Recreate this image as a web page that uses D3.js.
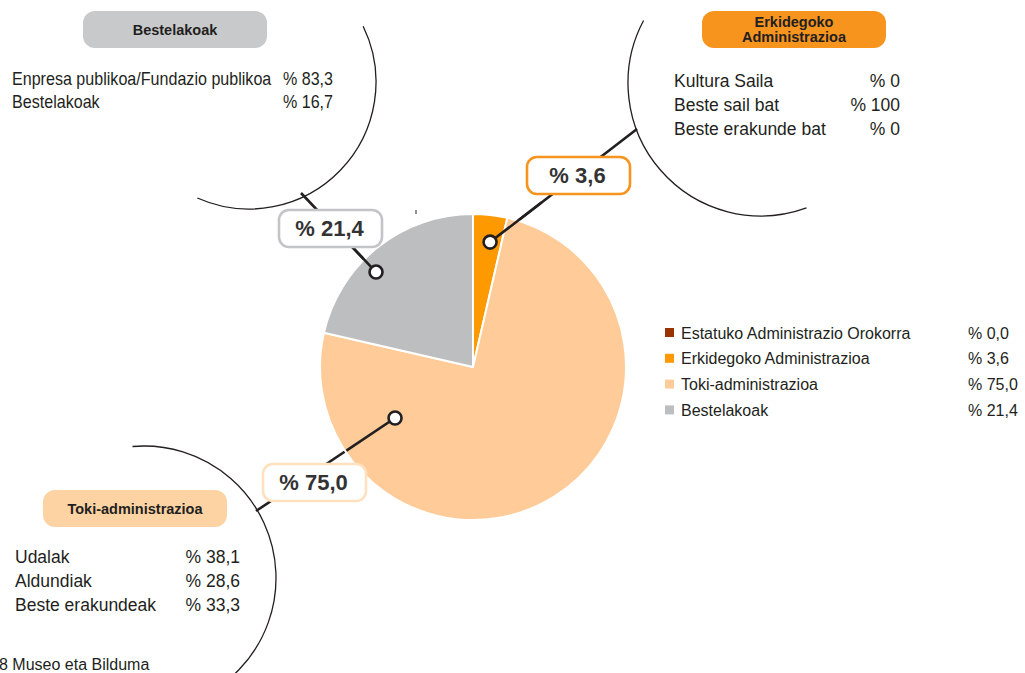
<!DOCTYPE html>
<html>
<head>
<meta charset="utf-8">
<script src="https://cdn.jsdelivr.net/npm/d3@7"></script>
<style>
  body { margin: 0; background: #fff; }
  svg { display: block; font-family: "Liberation Sans", Arial, sans-serif; }
</style>
</head>
<body>
<svg id="chart"></svg>
<script>
const width = 1025;
const height = 673;

// main pie
const categories = ["Estatuko Administrazio Orokorra", "Erkidegoko Administrazioa", "Toki-administrazioa", "Bestelakoak"];
const values = [0.0, 3.6, 75.0, 21.4];
const valueLabels = ["% 0,0", "% 3,6", "% 75,0", "% 21,4"];
const colors = ["#993300", "#FF9900", "#FFCC99", "#BCBEC0"];

// breakdowns shown in the callout circles
const bestelakoakNames = ["Enpresa publikoa/Fundazio publikoa", "Bestelakoak"];
const bestelakoakValues = ["% 83,3", "% 16,7"];
const erkidegokoNames = ["Kultura Saila", "Beste sail bat", "Beste erakunde bat"];
const erkidegokoValues = ["% 0", "% 100", "% 0"];
const tokiNames = ["Udalak", "Aldundiak", "Beste erakundeak"];
const tokiValues = ["% 38,1", "% 28,6", "% 33,3"];

const cx = 473, cy = 367, radius = 153;
const ink = "#231f20";

const svg = d3.select("#chart").attr("width", width).attr("height", height);

const pie = d3.pie().sort(null).value((d) => d);
const arcs = pie(values);
const arc = d3.arc().innerRadius(0).outerRadius(radius);

// big outline circles (partial arcs), angles in degrees from 12 o'clock clockwise
const bubbles = [
  { x: 249, y: 82, r: 127, from: 64, to: 204 },
  { x: 761, y: 83, r: 133, from: 160, to: 298 },
  { x: 144, y: 578, r: 132, from: -5, to: 180 }
];
const rad = (a) => (a * Math.PI) / 180;
bubbles.forEach((b) => {
  const p = d3.path();
  p.arc(b.x, b.y, b.r, rad(b.from - 90), rad(b.to - 90));
  svg.append("path").attr("d", p.toString()).attr("fill", "none")
    .attr("stroke", ink).attr("stroke-width", 1.3);
});

// callout layout: where on each slice the dot sits, and where the box goes
const callouts = [
  { i: 1, t: 0.6, k: 0.824, end: [637, 129], box: [527, 157], stroke: "#F7941E" },
  { i: 3, t: 0.408, k: 0.887, end: [301, 193], box: [279, 210], stroke: "#C3C4C6" },
  { i: 2, t: 0.829, k: 0.609, end: [256, 511], box: [263, 464], stroke: "#FFE1BF" }
];
const dotPos = (c) => {
  const a = arcs[c.i];
  const ang = a.startAngle + c.t * (a.endAngle - a.startAngle);
  return [cx + c.k * radius * Math.sin(ang), cy - c.k * radius * Math.cos(ang)];
};

// leader lines (behind pie and boxes)
callouts.forEach((c) => {
  const d = dotPos(c);
  svg.append("line").attr("x1", d[0]).attr("y1", d[1]).attr("x2", c.end[0]).attr("y2", c.end[1])
    .attr("stroke", ink).attr("stroke-width", 2.6);
});

// pie
const g = svg.append("g").attr("transform", `translate(${cx},${cy})`);
g.selectAll("path.slice").data(arcs).join("path")
  .attr("class", "slice")
  .attr("d", arc)
  .attr("fill", (d, i) => colors[i])
  .attr("stroke", "#fff")
  .attr("stroke-width", 2)
  .attr("stroke-linejoin", "round");

// leader line portion over the pie + dots
callouts.forEach((c) => {
  const d = dotPos(c);
  svg.append("line").attr("x1", d[0]).attr("y1", d[1])
    .attr("x2", d[0] + (c.end[0] - d[0]) * 0.35).attr("y2", d[1] + (c.end[1] - d[1]) * 0.35)
    .attr("stroke", ink).attr("stroke-width", 2.6);
  svg.append("circle").attr("cx", d[0]).attr("cy", d[1]).attr("r", 6.5)
    .attr("fill", "#fff").attr("stroke", ink).attr("stroke-width", 2.6);
});

// value boxes
const boxW = 103, boxH = 37;
callouts.forEach((c) => {
  svg.append("rect").attr("x", c.box[0]).attr("y", c.box[1]).attr("width", boxW).attr("height", boxH)
    .attr("rx", 10).attr("fill", "#fff").attr("stroke", c.stroke).attr("stroke-width", 2.6);
  svg.append("text").attr("x", c.box[0] + boxW / 2 - 1).attr("y", c.box[1] + boxH / 2 + 7.5)
    .attr("text-anchor", "middle").attr("font-size", 22).attr("font-weight", "bold")
    .attr("fill", "#333").text(valueLabels[c.i]);
});

// small stray tick above the pie
svg.append("line").attr("x1", 416).attr("x2", 416).attr("y1", 210).attr("y2", 214)
  .attr("stroke", ink).attr("stroke-width", 1);

// header pills
const pills = [
  { x: 83, y: 11, fill: "#C8C9CB", lines: ["Bestelakoak"] },
  { x: 702, y: 11, fill: "#F7941E", lines: ["Erkidegoko", "Administrazioa"] },
  { x: 43, y: 490, fill: "#FDD3A4", lines: ["Toki-administrazioa"] }
];
pills.forEach((p) => {
  svg.append("rect").attr("x", p.x).attr("y", p.y).attr("width", 184).attr("height", 37)
    .attr("rx", 12).attr("fill", p.fill);
  const n = p.lines.length;
  p.lines.forEach((l, j) => {
    svg.append("text").attr("x", p.x + 92).attr("y", p.y + 18.5 + (j - (n - 1) / 2) * 15 + 5)
      .attr("text-anchor", "middle").attr("font-size", 14.5).attr("font-weight", "bold")
      .attr("fill", ink).text(l);
  });
});

// breakdown lists
function list(names, vals, x, xr, y0, step, size, sx) {
  const lg = svg.append("g").attr("transform", `translate(${x},0) scale(${sx},1)`);
  names.forEach((n, i) => {
    lg.append("text").attr("x", 0).attr("y", y0 + i * step).attr("font-size", size)
      .attr("fill", ink).text(n);
    lg.append("text").attr("x", (xr - x) / sx).attr("y", y0 + i * step).attr("font-size", size)
      .attr("text-anchor", "end").attr("fill", ink).text(vals[i]);
  });
}
list(bestelakoakNames, bestelakoakValues, 12, 333, 85, 23.5, 17.5, 0.92);
list(erkidegokoNames, erkidegokoValues, 674, 900, 87, 24, 17.5, 1);
list(tokiNames, tokiValues, 15, 240, 563, 24, 17.5, 1);

// legend
const legend = svg.append("g");
categories.forEach((c, i) => {
  const y = 333 + i * 25.8;
  legend.append("rect").attr("x", 665).attr("y", y - 5).attr("width", 9).attr("height", 9)
    .attr("fill", colors[i]);
  legend.append("text").attr("x", 681).attr("y", y + 5.5).attr("font-size", 16)
    .attr("fill", ink).text(c);
  legend.append("text").attr("x", 968).attr("y", y + 5.5).attr("font-size", 16)
    .attr("fill", ink).text(valueLabels[i]);
});

// source line, cut at the left edge
svg.append("text").attr("x", -1).attr("y", 670).attr("font-size", 16).attr("fill", ink)
  .text("8 Museo eta Bilduma");
</script>
</body>
</html>
